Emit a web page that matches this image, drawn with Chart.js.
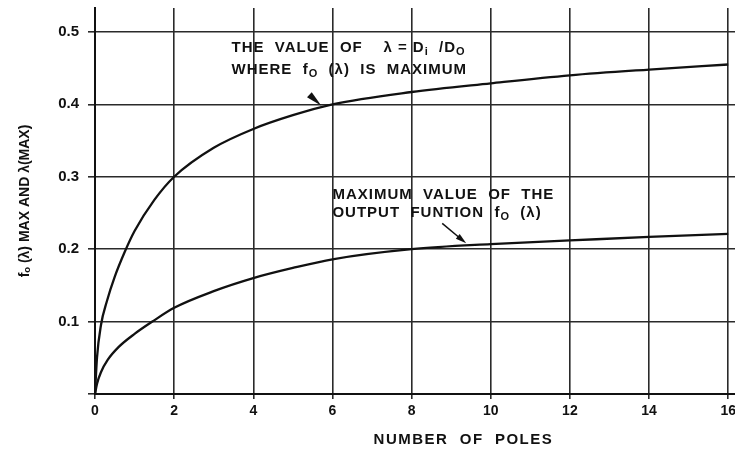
<!DOCTYPE html>
<html>
<head>
<meta charset="utf-8">
<script src="https://cdn.jsdelivr.net/npm/chart.js@4.4.1/dist/chart.umd.min.js"></script>
<style>
  html, body { margin: 0; padding: 0; background: #fff; overflow: hidden; }
  #wrap { position: relative; width: 740px; height: 450px; }
</style>
</head>
<body>
<div id="wrap"><canvas id="myChart"></canvas></div>
<script>
// number of poles (x) and the two curves
const poles = [0, 0.05, 0.15, 0.3, 0.5, 0.75, 1, 1.5, 2, 3, 4, 5, 6, 8, 10, 12, 14, 16];
const lambdaMax = [0, 0.05, 0.095, 0.128, 0.162, 0.196, 0.225, 0.268, 0.3, 0.34, 0.366, 0.385, 0.4, 0.417, 0.429, 0.44, 0.448, 0.455];
const polesLow = [0, 0.05, 0.15, 0.32, 0.6, 1, 1.45, 2, 3, 4, 5, 6, 8, 10, 12, 14, 16];
const foMax = [0, 0.014, 0.03, 0.047, 0.065, 0.083, 0.1, 0.119, 0.142, 0.16, 0.174, 0.186, 0.2, 0.207, 0.212, 0.217, 0.221];
const xTicks = [0, 2, 4, 6, 8, 10, 12, 14, 16];
const yTicks = [0, 0.1, 0.2, 0.3, 0.4, 0.5];

const INK = '#111';
const FONT = '"Liberation Sans", Arial, sans-serif';

const toPoints = (xs, ys) => xs.map((x, i) => ({ x: x, y: ys[i] }));

// text with subscript pieces: parts = [[text, isSub], ...]
const drawRich = (ctx, parts, x, y, size) => {
  let cx = x;
  for (const [txt, sub] of parts) {
    ctx.font = `bold ${sub ? Math.round(size * 0.72) : size}px ${FONT}`;
    ctx.fillText(txt, cx, sub ? y + size * 0.3 : y);
    cx += ctx.measureText(txt).width;
  }
};

const notes = {
  id: 'notes',
  afterDraw(chart) {
    const ctx = chart.ctx;
    const xs = chart.scales.x;
    const ys = chart.scales.y;
    const px = (v) => xs.getPixelForValue(v);
    const py = (v) => ys.getPixelForValue(v);
    ctx.save();
    ctx.fillStyle = INK;
    ctx.strokeStyle = INK;
    ctx.textBaseline = 'middle';
    ctx.textAlign = 'left';
    ctx.letterSpacing = '1px';

    // upper label
    drawRich(ctx, [['THE  VALUE  OF    \u03bb = D', false], ['i', true], ['  /D', false], ['O', true]], px(3.45), py(0.478), 15);
    drawRich(ctx, [['WHERE  f', false], ['O', true], ['  (\u03bb)  IS  MAXIMUM', false]], px(3.45), py(0.4475), 15);

    // lower label
    drawRich(ctx, [['MAXIMUM  VALUE  OF  THE', false]], px(6.0), py(0.275), 15);
    drawRich(ctx, [['OUTPUT  FUNTION  f', false], ['O', true], ['  (\u03bb)', false]], px(6.0), py(0.25), 15);

    // arrow head pointing at the upper curve
    let tx = px(5.72), ty = py(0.398);
    let bx = tx - 12, by = ty - 11;
    let ang = Math.atan2(ty - by, tx - bx);
    ctx.beginPath();
    ctx.moveTo(tx, ty);
    ctx.lineTo(bx + 3.5 * Math.sin(ang), by - 3.5 * Math.cos(ang));
    ctx.lineTo(bx - 3.5 * Math.sin(ang), by + 3.5 * Math.cos(ang));
    ctx.closePath();
    ctx.fill();

    // arrow to the lower curve
    tx = px(9.38); ty = py(0.208);
    bx = tx - 24; by = ty - 20;
    ang = Math.atan2(ty - by, tx - bx);
    ctx.lineWidth = 1.5;
    ctx.beginPath();
    ctx.moveTo(bx, by);
    ctx.lineTo(tx - 8 * Math.cos(ang), ty - 8 * Math.sin(ang));
    ctx.stroke();
    const hx = tx - 11 * Math.cos(ang), hy = ty - 11 * Math.sin(ang);
    ctx.beginPath();
    ctx.moveTo(tx, ty);
    ctx.lineTo(hx + 3 * Math.sin(ang), hy - 3 * Math.cos(ang));
    ctx.lineTo(hx - 3 * Math.sin(ang), hy + 3 * Math.cos(ang));
    ctx.closePath();
    ctx.fill();

    // x axis title, sits right of centre in the original
    ctx.textAlign = 'center';
    ctx.letterSpacing = '1.5px';
    ctx.font = `bold 15px ${FONT}`;
    ctx.fillText('NUMBER  OF  POLES', px(9.31), 440);
    ctx.restore();
  }
};

const ctx = document.getElementById('myChart').getContext('2d');
const myChart = new Chart(ctx, {
  type: 'line',
  data: {
    datasets: [
      {
        label: 'lambda max',
        data: toPoints(poles, lambdaMax),
        borderColor: INK,
        borderWidth: 2.3,
        pointRadius: 0,
        cubicInterpolationMode: 'monotone',
        fill: false,
      },
      {
        label: 'fo max',
        data: toPoints(polesLow, foMax),
        borderColor: INK,
        borderWidth: 2.3,
        pointRadius: 0,
        cubicInterpolationMode: 'monotone',
        fill: false,
      },
    ],
  },
  options: {
    responsive: true,
    maintainAspectRatio: false,
    animation: false,
    layout: { padding: { top: 8, right: 0, bottom: 0, left: 0 } },
    plugins: {
      legend: { display: false },
      tooltip: { enabled: false },
    },
    scales: {
      x: {
        type: 'linear',
        min: 0,
        max: 16.25,
        afterBuildTicks: (scale) => { scale.ticks = xTicks.map((v) => ({ value: v })); },
        afterFit: (scale) => { scale.height = 56; },
        ticks: {
          color: INK,
          padding: 4,
          font: { family: FONT, size: 14, weight: 'bold' },
          callback: (v) => String(v),
        },
        grid: { color: '#2a2a2a', lineWidth: 1.6, tickLength: 5, tickColor: '#2a2a2a' },
        border: { color: INK, width: 2 },
      },
      y: {
        type: 'linear',
        min: 0,
        max: 0.533,
        afterBuildTicks: (scale) => { scale.ticks = yTicks.map((v) => ({ value: v })); },
        afterFit: (scale) => {
          scale.width = 95;
          scale.paddingTop = 0;
          scale.paddingBottom = 0;
        },
        ticks: {
          color: INK,
          padding: 9,
          font: { family: FONT, size: 15, weight: 'bold' },
          callback: (v) => (v === 0 ? '' : v.toFixed(1)),
        },
        grid: { color: '#2a2a2a', lineWidth: 1.6, tickLength: 7, tickColor: '#2a2a2a' },
        border: { color: INK, width: 2 },
        title: {
          display: true,
          text: 'f\u2092 (\u03bb) MAX AND \u03bb(MAX)',
          color: INK,
          font: { family: FONT, size: 14, weight: 'bold' },
          padding: { top: 17, bottom: 0 },
        },
      },
    },
  },
  plugins: [notes],
});
</script>
</body>
</html>
